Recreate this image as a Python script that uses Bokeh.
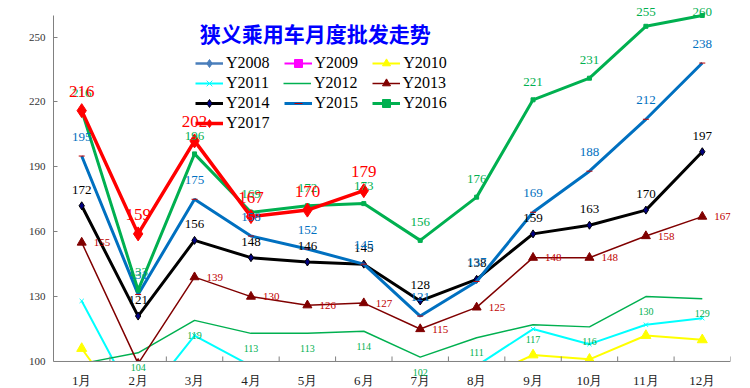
import numpy as np
from bokeh.plotting import figure
from bokeh.models import (Range1d, FixedTicker, ColumnDataSource, LabelSet, Label,
                          Legend, LegendItem, BoxAnnotation, Span)
from bokeh.embed import file_html
from bokeh.resources import INLINE

# ---------------- data ----------------
months = ["1月", "2月", "3月", "4月", "5月", "6月", "7月", "8月", "9月", "10月", "11月", "12月"]
month_idx = list(range(1, 13))

y2008 = [60, 45, 58, 55, 54, 54, 46, 37, 47, 50, 47, 55]
y2009 = [62, 50, 70, 72, 75, 75, 72, 74, 88, 90, 95, 98]
y2010 = [106, 70, 95, 90, 86, 85, 80, 91, 103, 101, 112, 110]
y2011 = [128, 79, 112, 98, 92, 90, 85, 98, 115, 108, 117, 120]
y2012 = [99, 104, 119, 113, 113, 114, 102, 111, 117, 116, 130, 129]
y2013 = [155, 99, 139, 130, 126, 127, 115, 125, 148, 148, 158, 167]
y2014 = [172, 121, 156, 148, 146, 145, 128, 138, 159, 163, 170, 197]
y2015 = [195, 131, 175, 158, 152, 145, 121, 137, 169, 188, 212, 238]
y2016 = [216, 133, 196, 169, 172, 173, 156, 176, 221, 231, 255, 260]
y2017 = [216, 159, 202, 167, 170, 179]

y_ticks = [100, 130, 160, 190, 220, 250]
title_text = "狭义乘用车月度批发走势"

SERIF = "Liberation Serif"
Y0, Y_AXIS_TOP, Y1 = 100, 260, 266
W, H = 750, 388
PX = 2.1625                      # pixels per unit
AXIS_Y = 361                     # canvas y of the value-100 axis
B_LEFT, B_RIGHT, B_BOTTOM = 53, 20, 0
B_TOP = int(round(AXIS_Y - (Y1 - Y0) * PX))
Y_LOW = Y1 - (H - B_TOP - B_BOTTOM) / PX

p = figure(width=W, height=H, output_backend="svg", toolbar_location=None,
           x_range=Range1d(0.5, 12.5), y_range=Range1d(Y_LOW, Y1),
           x_axis_location=None,
           min_border_left=B_LEFT, min_border_right=B_RIGHT,
           min_border_top=B_TOP, min_border_bottom=B_BOTTOM)
p.outline_line_color = None
p.xgrid.visible = False
p.ygrid.visible = False
p.background_fill_color = "white"

ya = p.yaxis[0]
ya.ticker = FixedTicker(ticks=y_ticks)
ya.bounds = (Y0, Y_AXIS_TOP)
ya.major_tick_in = 4
ya.major_tick_out = 0
ya.major_tick_line_color = "#808080"
ya.minor_tick_line_color = None
ya.axis_line_color = "#808080"
ya.major_label_standoff = 8
ya.major_label_text_font = SERIF
ya.major_label_text_font_size = "11px"
ya.major_label_text_color = "#333333"

x_all = month_idx

def series(vals, color, width, marker=None, msize=6, mfill=None, mline=None):
    xs = x_all[:len(vals)]
    src = ColumnDataSource(dict(x=xs, y=vals))
    rs = [p.line("x", "y", source=src, line_color=color, line_width=width)]
    if marker:
        rs.append(p.scatter("x", "y", source=src, marker=marker, size=msize,
                            fill_color=mfill or color, line_color=mline or (mfill or color)))
    return rs

r08 = series(y2008, "#4A7EBB", 2.5, "diamond", 9)
r09 = series(y2009, "#FF00FF", 2, "square", 7)
r10 = series(y2010, "#FFFF00", 2, "triangle", 10)
r11 = series(y2011, "#00FFFF", 2, "x", 6)
r12 = series(y2012, "#00B050", 1.5)
r13 = series(y2013, "#800000", 1.5, "triangle", 9)
r14 = series(y2014, "#000000", 3, "diamond", 8, "#000080", "#000000")
r15 = series(y2015, "#0070C0", 3, "dash", 6, "#C00000", "#C00000")
r16 = series(y2016, "#00B050", 3, "square", 4)
r17 = series(y2017, "#FF0000", 3.5, "diamond", 14)

# hide everything below the value axis (acts as the plot-area clip)
p.add_layout(BoxAnnotation(top=Y0, fill_color="white", fill_alpha=1.0, line_color=None))

# category axis: line, boundary ticks, month labels
p.add_layout(Span(location=Y0, dimension="width", line_color="#808080", line_width=1))
bounds_x = [m + 0.5 for m in range(0, 13)]
p.segment(x0=bounds_x, y0=[Y0] * len(bounds_x), x1=bounds_x,
          y1=[Y0 + 5 / PX] * len(bounds_x), line_color="#808080", line_width=1)
msrc = ColumnDataSource(dict(x=month_idx, y=[Y0] * 12, t=months))
p.add_layout(LabelSet(x="x", y="y", text="t", source=msrc, y_offset=-19,
                      text_font="Liberation Serif, Noto Sans CJK SC", text_font_size="13px",
                      text_color="#222222", text_align="center", text_baseline="middle"))

def label_offsets(ys, y_off):
    offs = []
    for v in ys:
        pt_y = B_TOP + (Y1 - v) * PX          # canvas y of the point
        offs.append(min(y_off, pt_y - 11) if y_off > 0 else y_off)
    return offs

def labels(vals, color, size, x_off, y_off, align="center"):
    xs = [x for x, v in zip(x_all, vals) if v >= Y0]
    ys = [v for v in vals if v >= Y0]
    src = ColumnDataSource(dict(x=xs, y=ys, t=[str(v) for v in ys],
                                off=label_offsets(ys, y_off)))
    p.add_layout(LabelSet(x="x", y="y", text="t", source=src, x_offset=x_off, y_offset="off",
                          text_font=SERIF, text_font_size=size, text_color=color,
                          text_align=align, text_baseline="middle"))

labels(y2012, "#00B050", "10px", 0, -15)
labels(y2013, "#C00000", "11px", 12, 0, align="left")
labels(y2014, "#000000", "13px", 0, 16)
labels(y2015, "#0070C0", "13px", 0, 19)
labels(y2016, "#00B050", "13px", 0, 18)
labels(y2017, "#FF0000", "17px", 0, 19)

# title inside plot
p.add_layout(Label(x=5.14, y=252.1, text=title_text, text_font="Noto Sans CJK SC",
                   text_font_size="21px", text_font_style="bold", text_color="#0000FF",
                   text_align="center", text_baseline="middle"))

# legends: 4 rows of 3 (location measured from the frame's bottom-left)
rows = [
    [("Y2008", r08), ("Y2009", r09), ("Y2010", r10)],
    [("Y2011", r11), ("Y2012", r12), ("Y2013", r13)],
    [("Y2014", r14), ("Y2015", r15), ("Y2016", r16)],
    [("Y2017", r17)],
]
row_centers = [63, 83, 103, 123]
frame_bottom = H - B_BOTTOM
for items, yc in zip(rows, row_centers):
    leg = Legend(items=[LegendItem(label=lab, renderers=rr) for lab, rr in items],
                 location=(142, frame_bottom - yc - 10), orientation="horizontal",
                 glyph_width=28, glyph_height=20, label_height=20,
                 label_standoff=3, spacing=14, padding=0, margin=0,
                 border_line_color=None, background_fill_alpha=0,
                 label_text_font=SERIF, label_text_font_size="16px",
                 label_text_color="#000000")
    p.add_layout(leg)

open("out.html", "w").write(file_html(p, INLINE))
